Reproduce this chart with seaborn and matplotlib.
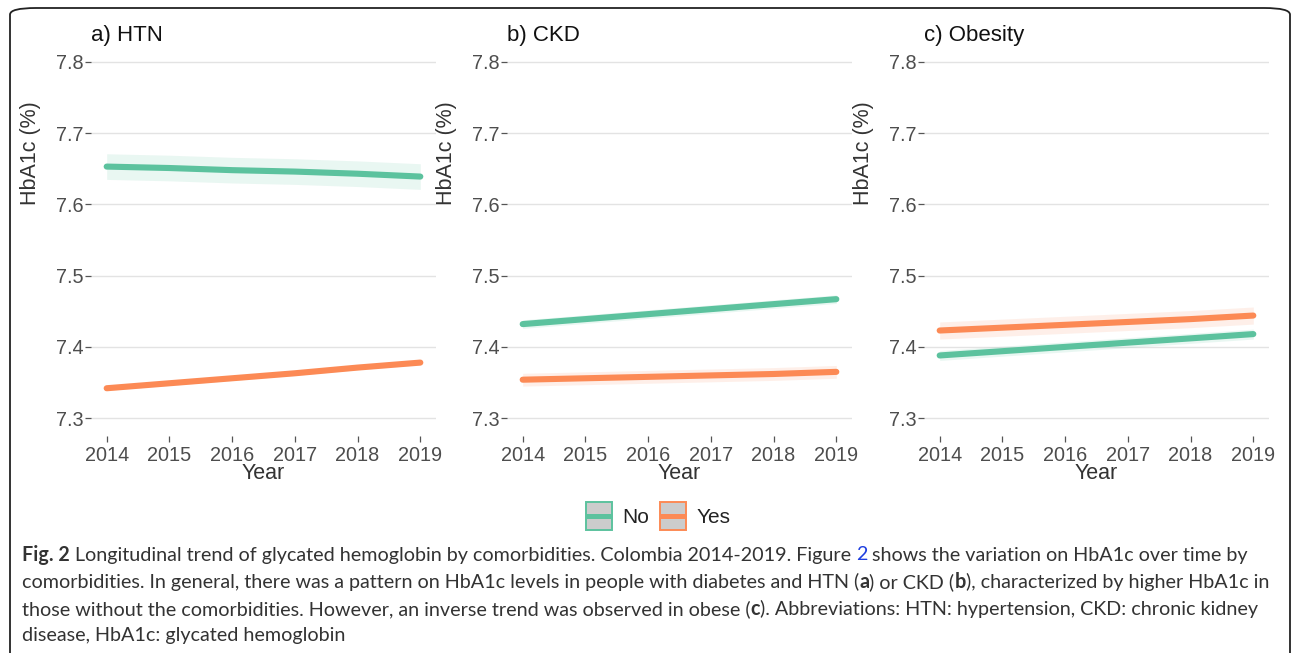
import matplotlib
matplotlib.use("Agg")
import matplotlib.pyplot as plt
from matplotlib.patches import FancyBboxPatch, Rectangle
from matplotlib.lines import Line2D
import seaborn as sns
import pandas as pd
import numpy as np

# data
years = [2014, 2015, 2016, 2017, 2018, 2019]
panels = ["a) HTN", "b) CKD", "c) Obesity"]

htn_no = [7.653, 7.651, 7.648, 7.646, 7.643, 7.639]
htn_yes = [7.342, 7.349, 7.356, 7.363, 7.371, 7.378]
ckd_no = [7.432, 7.439, 7.446, 7.453, 7.460, 7.467]
ckd_yes = [7.354, 7.356, 7.358, 7.360, 7.362, 7.365]
obe_no = [7.388, 7.394, 7.400, 7.406, 7.412, 7.418]
obe_yes = [7.423, 7.427, 7.431, 7.435, 7.439, 7.444]

# half width of the confidence band per panel / group
ci_no = [0.018, 0.006, 0.007]
ci_yes = [0.003, 0.009, 0.012]

y_ticks = [7.3, 7.4, 7.5, 7.6, 7.7, 7.8]

series = [(htn_no, htn_yes), (ckd_no, ckd_yes), (obe_no, obe_yes)]

rows = []
for p, (no_vals, yes_vals) in enumerate(series):
    for yr, v in zip(years, no_vals):
        rows.append({"panel": panels[p], "Year": yr, "group": "No", "hba1c": v,
                     "lo": v - ci_no[p], "hi": v + ci_no[p]})
    for yr, v in zip(years, yes_vals):
        rows.append({"panel": panels[p], "Year": yr, "group": "Yes", "hba1c": v,
                     "lo": v - ci_yes[p], "hi": v + ci_yes[p]})
df = pd.DataFrame(rows)


class KeyHandler:
    """ggplot-like legend key: grey box, coloured outline, line through the middle"""
    def legend_artist(self, legend, orig_handle, fontsize, handlebox):
        x0, y0 = -handlebox.xdescent, -handlebox.ydescent
        w, h = handlebox.width, handlebox.height
        c = orig_handle.get_color()
        tr = handlebox.get_transform()
        box = Rectangle((x0, y0), w, h, facecolor="#CCCCCC", edgecolor=c,
                        linewidth=1.4, transform=tr)
        ln = Line2D([x0, x0 + w], [y0 + h / 2, y0 + h / 2], color=c, linewidth=3.6,
                    solid_capstyle="butt", transform=tr)
        handlebox.add_artist(box)
        handlebox.add_artist(ln)
        return box


sns.set_theme(style="white")
plt.rcParams["font.family"] = ["Liberation Sans", "DejaVu Sans"]

colors = {"No": "#5CC29E", "Yes": "#FC8A55"}
W, H = 1292, 653
fig = plt.figure(figsize=(W / 100, H / 100), dpi=100)

# rounded frame around the whole figure
frame = FancyBboxPatch((10 / W, -0.2), 1280 / W, 1.2 - 8 / H,
                       boxstyle="round,pad=0,rounding_size=0.02",
                       transform=fig.transFigure, facecolor="none",
                       edgecolor="#222222", linewidth=1.3, mutation_aspect=H / W)
fig.patches.append(frame)

lefts = [91, 507, 924]
ax_w, ax_top, ax_bot = 345, 44, 436
tick_col = "#4D4D4D"

for p, name in enumerate(panels):
    ax = fig.add_axes([lefts[p] / W, 1 - ax_bot / H, ax_w / W, (ax_bot - ax_top) / H])
    sub = df[df["panel"] == name]
    for g in ["No", "Yes"]:
        d = sub[sub["group"] == g]
        ax.fill_between(d["Year"], d["lo"], d["hi"], color=colors[g], alpha=0.13, lw=0)
    sns.lineplot(data=sub, x="Year", y="hba1c", hue="group", palette=colors,
                 linewidth=4.4, ax=ax, legend=False, errorbar=None)
    ax.set_xlim(2013.75, 2019.25)
    ax.set_ylim(7.275, 7.825)
    ax.set_yticks(y_ticks)
    ax.set_yticklabels([f"{t:.1f}" for t in y_ticks])
    ax.set_xticks(years)
    ax.yaxis.grid(True, color="#E3E3E3", linewidth=1.0)
    ax.xaxis.grid(False)
    ax.set_axisbelow(True)
    for s in ax.spines.values():
        s.set_visible(False)
    ax.tick_params(axis="both", which="both", length=4, width=0.9, color="#555555",
                   labelsize=14.3, labelcolor=tick_col, pad=1.5)
    ax.tick_params(axis="x", bottom=True, pad=3)
    ax.tick_params(axis="y", left=True)
    ax.set_xlabel("Year", fontsize=15.5, color="#333333", labelpad=-1)
    ax.set_ylabel("HbA1c (%)", fontsize=15.5, color="#333333")
    ax.yaxis.set_label_coords(-50 / ax_w, (ax_bot - 153) / (ax_bot - ax_top))
    ax.text(0.0, 1 + (ax_top - 35) / (ax_bot - ax_top), name, transform=ax.transAxes,
            fontsize=16, color="#111111", ha="left", va="center")

# legend
handles = [Line2D([], [], color=colors[g]) for g in ["No", "Yes"]]
fig.legend(handles, ["No", "Yes"], handler_map={Line2D: KeyHandler()},
           loc="center", bbox_to_anchor=(658 / W, 1 - 516 / H), ncol=2, frameon=False,
           fontsize=15, handlelength=1.25, handleheight=1.7, columnspacing=0.5,
           handletextpad=0.5, labelcolor="#222222")

# caption with mixed styling
cap_lines = [
    [("Fig. 2", "bold", "k"), (" Longitudinal trend of glycated hemoglobin by comorbidities. Colombia 2014-2019. Figure ", "normal", "k"),
     ("2", "normal", "b"), (" shows the variation on HbA1c over time by", "normal", "k")],
    [("comorbidities. In general, there was a pattern on HbA1c levels in people with diabetes and HTN (", "normal", "k"),
     ("a", "bold", "k"), (") or CKD (", "normal", "k"), ("b", "bold", "k"),
     ("), characterized by higher HbA1c in", "normal", "k")],
    [("those without the comorbidities. However, an inverse trend was observed in obese (", "normal", "k"),
     ("c", "bold", "k"), ("). Abbreviations: HTN: hypertension, CKD: chronic kidney", "normal", "k")],
    [("disease, HbA1c: glycated hemoglobin", "normal", "k")],
]
cap_y = [555, 582, 609, 636]
cap_col = {"k": "#333333", "b": "#1F3FE0"}
cap_font = ["Lato", "DejaVu Sans"]
cap_size = 14.2

renderer = fig.canvas.get_renderer()
probe = fig.text(0, 0, "a a", fontsize=cap_size, family=cap_font)
probe2 = fig.text(0, 0, "aa", fontsize=cap_size, family=cap_font)
space_w = probe.get_window_extent(renderer).width - probe2.get_window_extent(renderer).width
probe.remove()
probe2.remove()

for line, yy in zip(cap_lines, cap_y):
    x = 22.0
    for txt, wt, c in line:
        lead = len(txt) - len(txt.lstrip(" "))
        trail = len(txt) - len(txt.rstrip(" "))
        x += lead * space_w
        core = txt.strip(" ")
        t = fig.text(x / W, 1 - yy / H, core, fontsize=cap_size, family=cap_font,
                     fontweight=wt, color=cap_col[c], ha="left", va="center")
        x += t.get_window_extent(renderer).width + trail * space_w

fig.savefig("out.png", dpi=100)
